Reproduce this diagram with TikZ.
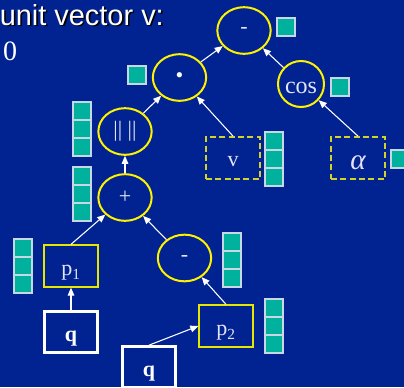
\documentclass[tikz,border=0pt]{standalone}
\usepackage{fontspec}
\setmainfont{Liberation Serif}
\setsansfont{Liberation Sans}
\usetikzlibrary{arrows.meta, shapes.geometric}

\definecolor{slideblue}{RGB}{0,35,145}
\definecolor{cellteal}{RGB}{0,178,158}
\definecolor{celledge}{RGB}{200,215,228}
\definecolor{dashyellow}{RGB}{210,210,40}
\definecolor{boxyellow}{RGB}{230,230,0}
\definecolor{labelwhite}{RGB}{228,228,242}

\tikzset{
  op/.style={ellipse, draw=yellow, line width=1.5pt, minimum width=40pt,
    minimum height=35pt, inner sep=0pt, text=labelwhite},
  leafbox/.style={rectangle, draw=dashyellow, line width=1.3pt,
    dash pattern=on 4.5pt off 2.5pt, minimum width=40.5pt, minimum height=31.5pt,
    inner sep=0pt, text=labelwhite, text height=13pt, text depth=0pt},
  pbox/.style={rectangle, draw=boxyellow, line width=1pt,
    minimum width=40.5pt, minimum height=31.5pt, inner sep=0pt, text=labelwhite,
    text height=14.5pt, text depth=0pt},
  qbox/.style={rectangle, draw=white, line width=2.25pt,
    minimum width=39.5pt, minimum height=30.5pt, inner sep=0pt, text=white,
    text height=13.5pt, text depth=0pt},
  link/.style={draw=white, line width=0.8pt, -{Triangle[length=6pt, width=5pt]}},
  cell/.style={fill=cellteal, draw=celledge, line width=0.8pt}
}

% teal stack: top-left corner (px) and number of cells
\newcommand{\cellstack}[3]{%
  \foreach \k in {1,...,#3}
    \filldraw[cell] (#1,{#2+18*(\k-1)}) rectangle ++(18,18);}

\begin{document}
\begin{tikzpicture}[x=0.75pt, y=-0.75pt, font=\fontsize{16.5}{18}\selectfont]
  \fill[slideblue] (0,0) rectangle (404,387);
  \useasboundingbox (0,0) rectangle (404,387);

  % --- heading ---
  \node[anchor=base west, inner sep=0pt, text=white,
    font=\sffamily\fontsize{21.7}{24}\selectfont] (title) at (-0.5,25)
    {\rlap{\color{black}\kern1.2pt\raisebox{-1.2pt}{unit vector v:}}unit vector v:};
  \node[text=white, font=\fontsize{21}{24}\selectfont] (zero) at (10,51) {0};

  % --- operators ---
  \node[op] (topminus) at (244,30.5) {-};
  \node[op] (dot) at (179.5,77.5) {\textcolor{white}{•}};
  \node[op, minimum width=34.5pt, minimum height=34.5pt, text height=13.5pt,
    text depth=0pt, font=\fontsize{18}{20}\selectfont] (cosn) at (301,84) {cos};
  \node[op] (norm) at (125,131.5) {|| ||};
  \node[op] (plus) at (125,197.5) {+};
  \node[op] (minus) at (184.5,258) {-};

  % --- leaves ---
  \node[leafbox] (vbox) at (233,158) {v};
  \node[leafbox, text height=17pt, font=\itshape\fontsize{22}{24}\selectfont]
    (abox) at (358,158) {α};
  \node[pbox] (pone) at (71,266) {p\textsubscript{1}};
  \node[pbox] (ptwo) at (226,326) {p\textsubscript{2}};
  \node[qbox] (qone) at (71,332) {\textbf{q}};
  \node[qbox] (qtwo) at (149,367) {\textbf{q}};

  % --- connectors ---
  \draw[link] (qone) -- (pone);
  \draw[link] (qtwo.north) -- (ptwo.west);
  \draw[link] (pone.north) -- (plus);
  \draw[link] (ptwo.north) -- (minus);
  \draw[link] (minus) -- (plus);
  \draw[link] (plus) -- (norm);
  \draw[link] (norm) -- (dot);
  \draw[link] (vbox.north) -- (dot);
  \draw[link] (dot) -- (topminus);
  \draw[link] (cosn) -- (topminus);
  \draw[link] (abox.north) -- (cosn);

  % --- value stacks ---
  \cellstack{277}{18}{1}
  \cellstack{331}{78}{1}
  \cellstack{128}{66}{1}
  \cellstack{391}{150}{1}
  \cellstack{265}{132}{3}
  \cellstack{73}{102}{3}
  \cellstack{73}{167}{3}
  \cellstack{223}{233}{3}
  \cellstack{14}{239}{3}
  \cellstack{265}{299}{3}
\end{tikzpicture}
\end{document}
